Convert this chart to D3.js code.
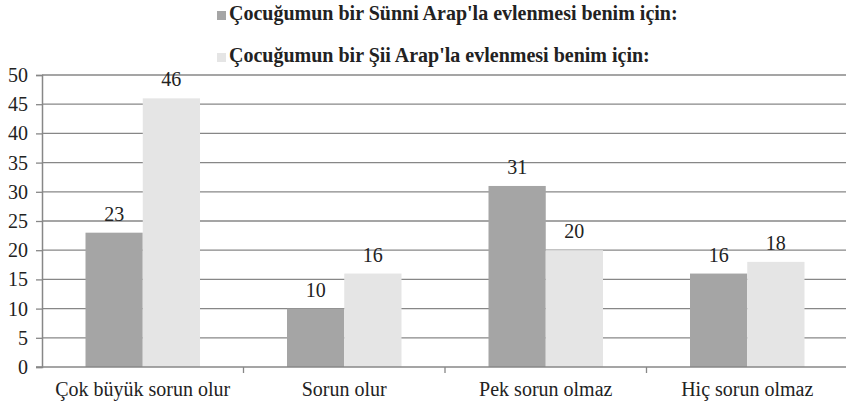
<!DOCTYPE html>
<html>
<head>
<meta charset="utf-8">
<script src="https://cdn.jsdelivr.net/npm/d3@7"></script>
<style>
  body { margin: 0; background: #fff; }
  svg text { font-family: "Liberation Serif", serif !important; }
</style>
</head>
<body>
<div id="chart"></div>
<script>
var categories = ['Çok büyük sorun olur', 'Sorun olur', 'Pek sorun olmaz', 'Hiç sorun olmaz'];
var seriesNames = ["Çocuğumun bir Sünni Arap'la evlenmesi benim için:",
                   "Çocuğumun bir Şii Arap'la evlenmesi benim için:"];
var sunniValues = [23, 10, 31, 16];
var shiiValues = [46, 16, 20, 18];
var yTicks = [0, 5, 10, 15, 20, 25, 30, 35, 40, 45, 50];
var colors = ['#a5a5a5', '#e5e5e5'];

var chartW = 846,
    chartH = 405,
    marginLeft = 42,
    marginTop = 75,
    plotRight = 848,
    plotBottom = 367,
    serifName = 'Liberation Serif';

var svg = d3.select('#chart')
  .append('svg')
  .attr('width', chartW)
  .attr('height', chartH)
  .attr('font-family', serifName)
  .style('display', 'block');

var xScale = d3.scaleBand()
  .domain(categories)
  .range([marginLeft, plotRight]);

var xSub = d3.scaleBand()
  .domain([0, 1])
  .range([0, xScale.bandwidth()])
  .paddingOuter(0.76);

var yScale = d3.scaleLinear()
  .domain([0, 50])
  .range([plotBottom, marginTop]);

// gridlines
svg.append('g')
  .selectAll('line')
  .data(yTicks.filter(function (d) { return d > 0; }))
  .enter()
  .append('line')
  .attr('x1', marginLeft)
  .attr('x2', plotRight)
  .attr('y1', function (d) { return yScale(d); })
  .attr('y2', function (d) { return yScale(d); })
  .attr('stroke', '#878787')
  .attr('stroke-width', 1.3);

// bars
var rows = categories.map(function (c, i) {
  return [{ cat: c, s: 0, v: sunniValues[i] }, { cat: c, s: 1, v: shiiValues[i] }];
});

var catGroup = svg.selectAll('g.cat')
  .data(rows).enter()
  .append('g')
  .attr('class', 'cat')
  .attr('transform', function (d) { return 'translate(' + xScale(d[0].cat) + ',0)'; });

catGroup.selectAll('rect')
  .data(function (d) { return d; }).enter()
  .append('rect')
  .attr('x', function (d) { return xSub(d.s); })
  .attr('y', function (d) { return yScale(d.v); })
  .attr('width', xSub.bandwidth())
  .attr('height', function (d) { return yScale(0) - yScale(d.v); })
  .attr('fill', function (d) { return colors[d.s]; });

catGroup.selectAll('text')
  .data(function (d) { return d; }).enter()
  .append('text')
  .attr('x', function (d) { return xSub(d.s) + xSub.bandwidth() / 2; })
  .attr('y', function (d) { return yScale(d.v) - 12; })
  .attr('text-anchor', 'middle')
  .attr('font-family', serifName)
  .attr('font-size', 20)
  .attr('fill', '#222')
  .text(function (d) { return d.v; });

// y axis
var yAxis = svg.append('g')
  .attr('transform', 'translate(' + marginLeft + ',0)')
  .call(d3.axisLeft(yScale).tickValues(yTicks).tickSize(6).tickPadding(8))
  .attr('font-family', serifName)
  .attr('font-size', 20);
yAxis.select('.domain').attr('stroke', '#878787').attr('stroke-width', 1.5);
yAxis.selectAll('.tick line').attr('stroke', '#878787').attr('stroke-width', 1.3);
yAxis.selectAll('.tick text').attr('fill', '#222');

// x axis
var xAxis = svg.append('g')
  .attr('transform', 'translate(0,' + plotBottom + ')');
xAxis.append('line')
  .attr('x1', marginLeft - 6)
  .attr('x2', plotRight)
  .attr('stroke', '#878787')
  .attr('stroke-width', 1.5);
xAxis.selectAll('line.tick')
  .data(categories.slice(1)).enter()
  .append('line')
  .attr('class', 'tick')
  .attr('x1', function (d) { return xScale(d); })
  .attr('x2', function (d) { return xScale(d); })
  .attr('y1', 0)
  .attr('y2', 6)
  .attr('stroke', '#878787')
  .attr('stroke-width', 1.3);
xAxis.selectAll('text')
  .data(categories).enter()
  .append('text')
  .attr('x', function (d) { return xScale(d) + xScale.bandwidth() / 2; })
  .attr('y', 29)
  .attr('text-anchor', 'middle')
  .attr('font-family', serifName)
  .attr('font-size', 20)
  .attr('fill', '#222')
  .text(function (d) { return d; });

// legend
var legend = svg.append('g');
var legendRow = legend.selectAll('g')
  .data(seriesNames).enter()
  .append('g')
  .attr('transform', function (d, i) { return 'translate(217,' + (20 + i * 42) + ')'; });
legendRow.append('rect')
  .attr('x', 0)
  .attr('y', -9)
  .attr('width', 9)
  .attr('height', 9)
  .attr('fill', function (d, i) { return colors[i]; });
legendRow.append('text')
  .attr('x', 12)
  .attr('y', 0)
  .attr('font-family', serifName)
  .attr('font-size', 20)
  .attr('font-weight', 'bold')
  .attr('fill', '#222')
  .text(function (d) { return d; });
</script>
</body>
</html>
